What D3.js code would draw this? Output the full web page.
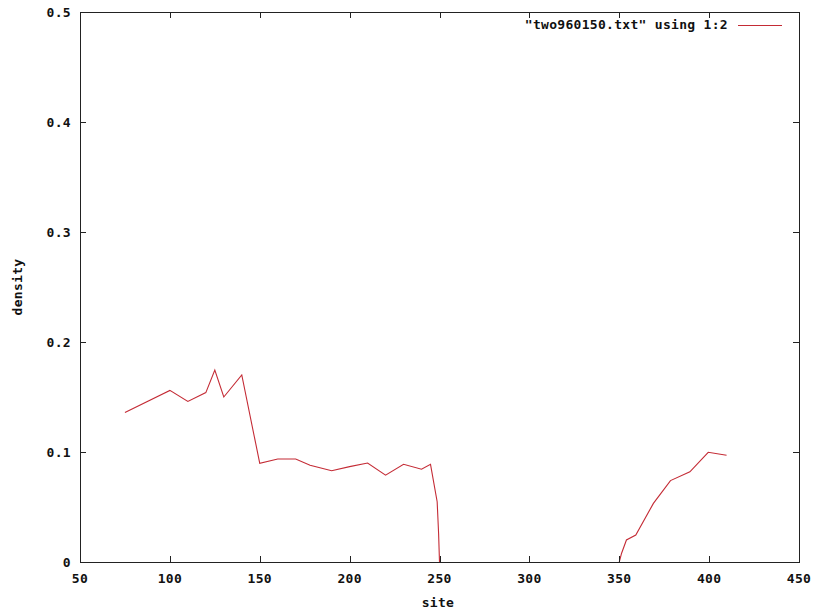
<!DOCTYPE html>
<html>
<head>
<meta charset="utf-8">
<script src="https://cdn.jsdelivr.net/npm/d3@7"></script>
<style>
  html, body { margin: 0; padding: 0; background: #fff; }
  text { font-family: "DejaVu Sans Mono", monospace; font-weight: bold; font-size: 13px; letter-spacing: 0.3px; fill: #111; }
</style>
</head>
<body>
<svg id="chart" width="817" height="613"></svg>
<script>
// density per site; the gap between the two runs has no samples
const sitesLeft   = [75, 100, 110, 120, 125, 130, 140, 150, 160, 170, 178, 190, 200, 210, 220, 230, 240, 245, 248.7, 249.5, 250];
const densityLeft = [0.136, 0.156, 0.146, 0.154, 0.1745, 0.150, 0.170, 0.0897, 0.0936, 0.0936, 0.088, 0.083, 0.0867, 0.090, 0.079, 0.0888, 0.0843, 0.0888, 0.0548, 0.026, 0];
const sitesRight   = [350, 351.3, 354, 359.2, 369, 378.5, 389.3, 399.5, 409.7];
const densityRight = [0, 0.008, 0.02, 0.0245, 0.0533, 0.074, 0.082, 0.0997, 0.097];

const xTicks = [50, 100, 150, 200, 250, 300, 350, 400, 450];
const yTicks = [0, 0.1, 0.2, 0.3, 0.4, 0.5];
const yTickLabels = ["0", "0.1", "0.2", "0.3", "0.4", "0.5"];
const legendLabel = "\"two960150.txt\" using 1:2";
const xLabel = "site";
const yLabel = "density";

const svg = d3.select("#chart");
const plot = { left: 80, right: 799, top: 12, bottom: 562 };

const x = d3.scaleLinear().domain([50, 450]).range([plot.left, plot.right]);
const y = d3.scaleLinear().domain([0, 0.5]).range([plot.bottom, plot.top]);

const lineColor = "#c42b35";
const axisColor = "#222";
const tickLen = 6;

// series
const line = d3.line().x(d => x(d[0])).y(d => y(d[1]));
const segments = [
  d3.zip(sitesLeft, densityLeft),
  d3.zip(sitesRight, densityRight)
];
svg.append("g").selectAll("path").data(segments).join("path")
  .attr("d", line)
  .attr("fill", "none")
  .attr("stroke", lineColor)
  .attr("stroke-width", 1.1)
  .attr("stroke-linejoin", "miter");

// inward ticks on all four sides
const tickG = svg.append("g").attr("stroke", axisColor).attr("stroke-width", 1);
xTicks.forEach(t => {
  const px = Math.round(x(t)) + 0.5;
  tickG.append("line").attr("x1", px).attr("x2", px).attr("y1", plot.bottom).attr("y2", plot.bottom - tickLen);
  tickG.append("line").attr("x1", px).attr("x2", px).attr("y1", plot.top).attr("y2", plot.top + tickLen);
});
yTicks.forEach(t => {
  const py = Math.round(y(t)) + 0.5;
  tickG.append("line").attr("x1", plot.left).attr("x2", plot.left + tickLen).attr("y1", py).attr("y2", py);
  tickG.append("line").attr("x1", plot.right).attr("x2", plot.right - tickLen).attr("y1", py).attr("y2", py);
});

// border
svg.append("rect")
  .attr("x", plot.left + 0.5).attr("y", plot.top + 0.5)
  .attr("width", plot.right - plot.left).attr("height", plot.bottom - plot.top)
  .attr("fill", "none").attr("stroke", axisColor).attr("stroke-width", 1);

// tick labels
svg.append("g").selectAll("text").data(xTicks).join("text")
  .attr("x", d => x(d)).attr("y", 583)
  .attr("text-anchor", "middle")
  .text(d => d);
svg.append("g").selectAll("text").data(yTicks).join("text")
  .attr("x", 71).attr("y", d => y(d) + 4.5)
  .attr("text-anchor", "end")
  .text((d, i) => yTickLabels[i]);

// axis titles
svg.append("text").attr("x", 438).attr("y", 607).attr("text-anchor", "middle").text(xLabel);
svg.append("text")
  .attr("transform", "translate(22,287) rotate(-90)")
  .attr("text-anchor", "middle")
  .text(yLabel);

// legend
svg.append("text").attr("x", 728).attr("y", 29).attr("text-anchor", "end").text(legendLabel);
svg.append("line")
  .attr("x1", 738).attr("x2", 782).attr("y1", 25.5).attr("y2", 25.5)
  .attr("stroke", lineColor).attr("stroke-width", 1.1);
</script>
</body>
</html>
